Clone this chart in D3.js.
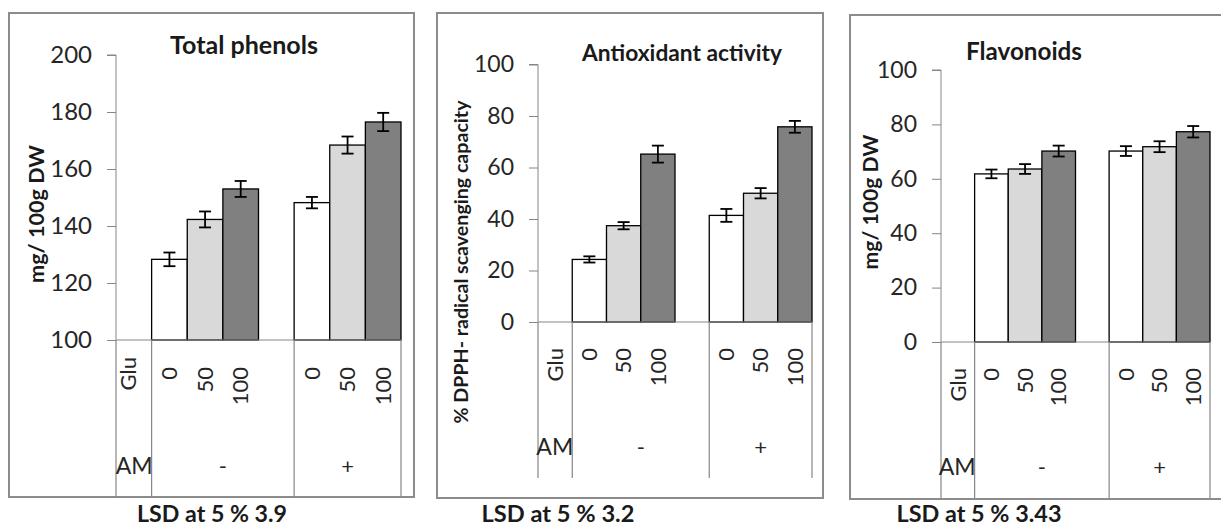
<!DOCTYPE html>
<html><head><meta charset="utf-8">
<script src="https://cdn.jsdelivr.net/npm/d3@7"></script>
<style>body{margin:0;background:#fff}</style>
</head><body>
<svg id="c" width="1221" height="528"></svg>
<script>
// ---------- data ----------
const gluLevels = ["0", "50", "100"];
const amLevels = ["-", "+"];
const phenolValues = [128.3, 142.3, 153.0, 148.2, 168.4, 176.5];
const phenolErrors = [2.4, 2.8, 2.8, 2.0, 3.0, 3.2];
const antioxValues = [24.3, 37.4, 65.2, 41.4, 50.0, 75.8];
const antioxErrors = [1.2, 1.4, 3.3, 2.5, 2.0, 2.3];
const flavValues = [61.8, 63.6, 70.2, 70.2, 71.8, 77.3];
const flavErrors = [1.6, 1.8, 2.0, 1.8, 2.0, 2.1];
const phenolTicks = [100, 120, 140, 160, 180, 200];
const pctTicks = [0, 20, 40, 60, 80, 100];
const titles = ["Total phenols", "Antioxidant activity", "Flavonoids"];
const yLabels = ["mg/ 100g DW", "% DPPH- radical scavenging capacity", "mg/ 100g DW"];
const lsdLabels = ["LSD at 5 % 3.9", "LSD at 5 % 3.2", "LSD at 5 % 3.43"];
const barColors = ["#ffffff", "#d9d9d9", "#808080"];

// ---------- layout ----------
const FONT = "Lato, 'Open Sans', sans-serif";
const panels = [
  {values: phenolValues, errors: phenolErrors, ticks: phenolTicks, domain: [100, 200],
   box: [9, 13, 414, 497], axisX: 116, rightX: 401, yTop: 55, yBase: 340, divBottom: 497,
   title: [244, 54, 148], ylab: [36, 214, 138], lsd: [212, 522, 150],
   gluTop: 357, gluDx: -6, numTop: 367, amY: 466, tickFs: 24, catFs: 22},
  {values: antioxValues, errors: antioxErrors, ticks: pctTicks, domain: [0, 100],
   box: [437, 13, 823, 498], axisX: 538, rightX: 812, yTop: 64.5, yBase: 322, divBottom: 478,
   title: [682, 61, 200], ylab: [461, 262, 323], lsd: [558, 522, 153],
   gluTop: 348, gluDx: 0, numTop: 348, amY: 447, tickFs: 23, catFs: 22},
  {values: flavValues, errors: flavErrors, ticks: pctTicks, domain: [0, 100],
   box: [850, 15, 1224, 499], axisX: 941, rightX: 1210, yTop: 70, yBase: 342, divBottom: 498,
   title: [1024, 60, 116], ylab: [871, 202, 135], lsd: [979, 522, 165],
   gluTop: 368, gluDx: 0, numTop: 368, amY: 467, tickFs: 23, catFs: 22}
];

const svg = d3.select("#c");

function fit(sel, w) {
  sel.each(function () {
    const L = this.getComputedTextLength();
    const fs = parseFloat(this.getAttribute("font-size"));
    if (L > 0) this.setAttribute("font-size", fs * w / L);
  });
}

const slotKeys = ["Glu"];
amLevels.forEach((a, i) => {
  gluLevels.forEach(g => slotKeys.push(a + g));
  if (i === 0) slotKeys.push(a + "gap");
});

panels.forEach((p, pi) => {
  const g = svg.append("g");
  // border
  g.append("rect")
    .attr("x", p.box[0]).attr("y", p.box[1])
    .attr("width", p.box[2] - p.box[0]).attr("height", p.box[3] - p.box[1])
    .attr("fill", "#fff").attr("stroke", "#8c8c8c").attr("stroke-width", 2);

  const x = d3.scaleBand().domain(slotKeys).range([p.axisX, p.rightX]).padding(0);
  const y = d3.scaleLinear().domain(p.domain).range([p.yBase, p.yTop]);

  const data = [];
  amLevels.forEach((a, ai) => gluLevels.forEach((gl, gi) => {
    const k = ai * gluLevels.length + gi;
    data.push({key: a + gl, v: p.values[k], e: p.errors[k], c: barColors[gi]});
  }));

  // bars
  g.selectAll(".bar").data(data).join("rect")
    .attr("x", d => x(d.key)).attr("width", x.bandwidth())
    .attr("y", d => y(d.v)).attr("height", d => y(p.domain[0]) - y(d.v))
    .attr("fill", d => d.c).attr("stroke", "#000").attr("stroke-width", 1.3);

  // error bars
  const eb = g.selectAll(".eb").data(data).join("g")
    .attr("stroke", "#000").attr("stroke-width", 1.8);
  eb.append("line")
    .attr("x1", d => x(d.key) + x.bandwidth() / 2).attr("x2", d => x(d.key) + x.bandwidth() / 2)
    .attr("y1", d => y(d.v + d.e)).attr("y2", d => y(d.v - d.e));
  [1, -1].forEach(s => eb.append("line")
    .attr("x1", d => x(d.key) + x.bandwidth() / 2 - 6).attr("x2", d => x(d.key) + x.bandwidth() / 2 + 6)
    .attr("y1", d => y(d.v + s * d.e)).attr("y2", d => y(d.v + s * d.e)));

  // y axis
  const ax = g.append("g").attr("transform", `translate(${p.axisX},0)`)
    .call(d3.axisLeft(y).tickValues(p.ticks).tickSize(9).tickPadding(15).tickFormat(d3.format("d")));
  ax.select(".domain").attr("stroke", "#868686").attr("d", `M-9,${p.yTop}H0V${p.yBase}`);
  ax.selectAll(".tick line").attr("stroke", "#868686");
  ax.selectAll(".tick text").attr("font-family", FONT).attr("font-size", p.tickFs).attr("fill", "#262626");
  ax.attr("font-family", FONT).attr("font-size", p.tickFs);

  // baseline and dividers
  g.append("line").attr("x1", p.axisX).attr("x2", p.rightX)
    .attr("y1", p.yBase).attr("y2", p.yBase).attr("stroke", "#868686");
  const divs = [p.axisX, x(amLevels[0] + gluLevels[0]), x(amLevels[1] + gluLevels[0]), p.rightX];
  g.selectAll(".div").data(divs).join("line")
    .attr("x1", d => d).attr("x2", d => d).attr("y1", p.yBase).attr("y2", p.divBottom)
    .attr("stroke", "#868686").attr("stroke-width", 1.2);

  // category labels (rotated)
  const catLabels = [{t: "Glu", cx: x("Glu") + x.bandwidth() / 2 + p.gluDx, top: p.gluTop, glu: true}];
  data.forEach(d => catLabels.push({t: d.key.slice(1), cx: x(d.key) + x.bandwidth() / 2, top: p.numTop}));
  g.selectAll(".cat").data(catLabels).join("text")
    .attr("transform", d => `translate(${d.cx},${d.top}) rotate(-90)`)
    .attr("text-anchor", "end").attr("dy", "0.35em")
    .attr("font-family", FONT).attr("font-size", p.catFs).attr("fill", "#262626")
    .text(d => d.t);

  // AM row
  g.append("text").attr("x", x(amLevels[0] + gluLevels[0]) + 1).attr("y", p.amY).attr("dy", "0.35em")
    .attr("text-anchor", "end").attr("font-family", FONT).attr("font-size", 23).attr("fill", "#262626")
    .text("AM");
  amLevels.forEach((a, ai) => {
    const start = x(a + gluLevels[0]);
    const end = ai === 0 ? x(amLevels[1] + gluLevels[0]) : p.rightX;
    g.append("text").attr("x", (start + end) / 2).attr("y", p.amY).attr("dy", "0.35em")
      .attr("text-anchor", "middle").attr("font-family", FONT).attr("font-size", 22).attr("fill", "#262626")
      .text(a);
  });

  // title
  g.append("text").attr("x", p.title[0]).attr("y", p.title[1]).attr("text-anchor", "middle")
    .attr("font-family", FONT).attr("font-weight", "bold").attr("font-size", 20).attr("fill", "#1a1a1a")
    .text(titles[pi]).call(fit, p.title[2]);

  // y label
  g.append("text").attr("transform", `translate(${p.ylab[0]},${p.ylab[1]}) rotate(-90)`)
    .attr("text-anchor", "middle").attr("dy", "0.35em")
    .attr("font-family", FONT).attr("font-weight", "bold").attr("font-size", 20).attr("fill", "#1a1a1a")
    .text(yLabels[pi]).call(fit, p.ylab[2]);

  // LSD
  svg.append("text").attr("x", p.lsd[0]).attr("y", p.lsd[1]).attr("text-anchor", "middle")
    .attr("font-family", FONT).attr("font-weight", "bold").attr("font-size", 20).attr("fill", "#1a1a1a")
    .text(lsdLabels[pi]).call(fit, p.lsd[2]);
});
</script>
</body></html>
